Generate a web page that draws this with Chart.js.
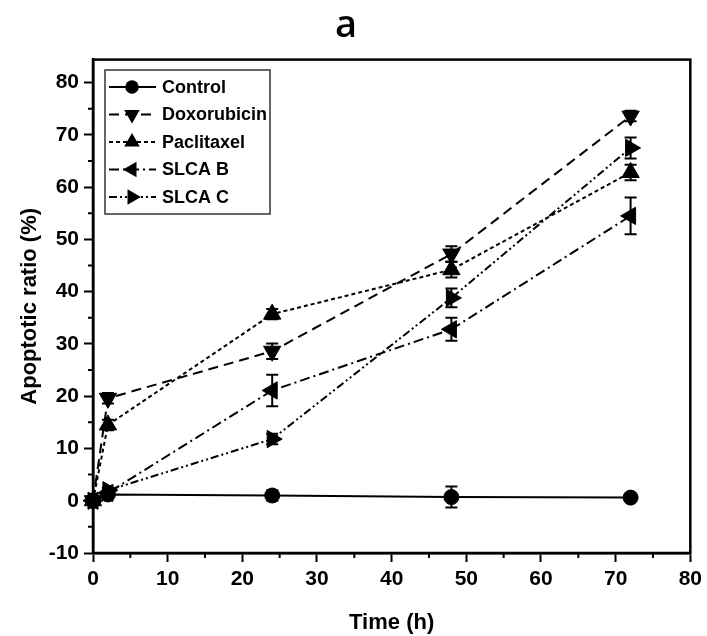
<!DOCTYPE html>
<html>
<head>
<meta charset="utf-8">
<script src="https://cdn.jsdelivr.net/npm/chart.js@4.4.1/dist/chart.umd.min.js"></script>
<style>
    html, body { margin: 0; padding: 0; background: #fff; }
    #wrap { width: 707px; height: 636px; }
</style>
</head>
<body>
<div id="wrap"><canvas id="chart" width="707" height="636"></canvas></div>
<script>
// time points (h)
var times = [0, 2, 24, 48, 72];

// apoptotic ratio (%) per treatment
var control = [0, 1.2, 1.0, 0.7, 0.6];
var doxorubicin = [0, 19.6, 28.6, 47.2, 73.6];
var paclitaxel = [0, 14.5, 35.7, 44.2, 62.8];
var slcaB = [0, 1.5, 21.1, 32.8, 54.5];
var slcaC = [0, 2.0, 11.8, 38.8, 67.5];

// error bars (+/-)
var controlErr = [0, 0.5, 1.0, 2.0, 0.5];
var doxorubicinErr = [0, 1.0, 1.5, 1.5, 1.0];
var paclitaxelErr = [0, 1.0, 1.0, 1.5, 1.5];
var slcaBErr = [0, 1.0, 3.0, 2.2, 3.5];
var slcaCErr = [0, 0.5, 1.0, 1.8, 2.0];

var xTicks = [0, 10, 20, 30, 40, 50, 60, 70, 80];
var yTicks = [-10, 0, 10, 20, 30, 40, 50, 60, 70, 80];

var fontFamily = "'Liberation Sans', Arial, sans-serif";
Chart.defaults.font.family = fontFamily;
Chart.defaults.color = '#000';

function makeSet(label, values, errors, style, rotation, radius, dash) {
    return {
        label: label,
        data: times.map((t, i) => ({ x: t, y: values[i] })),
        errors: errors,
        borderColor: '#000',
        backgroundColor: '#000',
        borderWidth: 2,
        borderDash: dash,
        pointStyle: style,
        rotation: rotation,
        pointRadius: radius,
        pointBorderWidth: 1,
        pointHoverRadius: radius,
        fill: false,
        tension: 0,
        clip: false
    };
}

var datasets = [
    makeSet('Control', control, controlErr, 'circle', 0, 7.5, []),
    makeSet('Doxorubicin', doxorubicin, doxorubicinErr, 'triangle', 180, 10, [10, 6]),
    makeSet('Paclitaxel', paclitaxel, paclitaxelErr, 'triangle', 0, 10, [4, 3]),
    makeSet('SLCA B', slcaB, slcaBErr, 'triangle', -90, 10, [10, 4, 2, 4]),
    makeSet('SLCA C', slcaC, slcaCErr, 'triangle', 90, 10, [8, 3, 2, 3, 2, 3])
];

// error bars under the markers
var errorBars = {
    id: 'errorBars',
    beforeDatasetsDraw(chart) {
        var ctx = chart.ctx;
        var xs = chart.scales.x, ys = chart.scales.y;
        ctx.save();
        ctx.strokeStyle = '#000';
        ctx.lineWidth = 2;
        ctx.setLineDash([]);
        chart.data.datasets.forEach(ds => {
            ds.data.forEach((p, i) => {
                var e = ds.errors[i];
                if (!e) return;
                var x = xs.getPixelForValue(p.x);
                var y1 = ys.getPixelForValue(p.y + e);
                var y2 = ys.getPixelForValue(p.y - e);
                ctx.beginPath();
                ctx.moveTo(x, y1); ctx.lineTo(x, y2);
                ctx.moveTo(x - 6, y1); ctx.lineTo(x + 6, y1);
                ctx.moveTo(x - 6, y2); ctx.lineTo(x + 6, y2);
                ctx.stroke();
            });
        });
        ctx.restore();
    }
};

// frame round the plot + minor ticks
var frame = {
    id: 'frame',
    afterDraw(chart) {
        var ctx = chart.ctx, a = chart.chartArea;
        var xs = chart.scales.x, ys = chart.scales.y;
        ctx.save();
        ctx.strokeStyle = '#000';
        ctx.lineWidth = 2.5;
        ctx.setLineDash([]);
        ctx.strokeRect(a.left, a.top, a.right - a.left, a.bottom - a.top);
        ctx.lineWidth = 2;
        ctx.beginPath();
        for (var v = 5; v < 80; v += 10) {
            var x = xs.getPixelForValue(v);
            ctx.moveTo(x, a.bottom); ctx.lineTo(x, a.bottom + 5);
        }
        for (var w = -5; w < 84; w += 10) {
            var y = ys.getPixelForValue(w);
            ctx.moveTo(a.left, y); ctx.lineTo(a.left - 5, y);
        }
        ctx.stroke();
        ctx.restore();
    }
};

function drawMarker(ctx, style, rotation, r, x, y) {
    ctx.beginPath();
    if (style === 'circle') {
        ctx.arc(x, y, r, 0, Math.PI * 2);
    } else {
        var rad = rotation * Math.PI / 180;
        for (var k = 0; k < 3; k++) {
            var px = x + Math.sin(rad) * r, py = y - Math.cos(rad) * r;
            if (k === 0) ctx.moveTo(px, py); else ctx.lineTo(px, py);
            rad += Math.PI * 2 / 3;
        }
        ctx.closePath();
    }
    ctx.fill();
}

// legend inside the plot, with line samples
var insideLegend = {
    id: 'insideLegend',
    afterDraw(chart) {
        var ctx = chart.ctx;
        var bx = 105, by = 70, bw = 165, bh = 144;
        ctx.save();
        ctx.fillStyle = '#fff';
        ctx.fillRect(bx, by, bw, bh);
        ctx.strokeStyle = '#333';
        ctx.lineWidth = 1.5;
        ctx.setLineDash([]);
        ctx.strokeRect(bx, by, bw, bh);
        ctx.font = 'bold 18px ' + fontFamily;
        ctx.textBaseline = 'middle';
        chart.data.datasets.forEach((ds, i) => {
            var y = 87 + i * 27.5;
            ctx.strokeStyle = '#000';
            ctx.lineWidth = 2;
            ctx.setLineDash(ds.borderDash);
            ctx.beginPath();
            ctx.moveTo(109, y); ctx.lineTo(156, y);
            ctx.stroke();
            ctx.setLineDash([]);
            ctx.fillStyle = '#000';
            drawMarker(ctx, ds.pointStyle, ds.rotation, ds.pointRadius * 0.9, 132, y);
            ctx.fillText(ds.label, 162, y + 1);
        });
        ctx.restore();
    }
};

var ctx = document.getElementById('chart').getContext('2d');
var chart = new Chart(ctx, {
    type: 'line',
    data: { datasets: datasets },
    options: {
        responsive: false,
        animation: false,
        devicePixelRatio: 1,
        layout: { padding: { left: 0, right: 15, top: 0, bottom: 0 } },
        plugins: {
            legend: { display: false },
            tooltip: { enabled: false },
            title: {
                display: true,
                text: 'a',
                color: '#000',
                font: { family: "'Open Sans', sans-serif", size: 38, weight: '600' },
                padding: { top: 3, bottom: 11 }
            }
        },
        scales: {
            x: {
                type: 'linear',
                min: 0,
                max: 80,
                afterFit: s => { s.height = 83; },
                afterBuildTicks: s => { s.ticks = xTicks.map(v => ({ value: v })); },
                grid: { drawOnChartArea: false, tickLength: 9, tickWidth: 2, tickColor: '#000' },
                border: { display: true, color: '#000', width: 2.5 },
                ticks: { font: { size: 21, weight: 'bold' }, padding: 5, maxRotation: 0 },
                title: {
                    display: true,
                    text: 'Time (h)',
                    font: { size: 22, weight: 'bold' },
                    padding: { top: 0, bottom: 0 }
                }
            },
            y: {
                min: -10,
                max: 84.4,
                afterFit: s => { s.width = 93; },
                afterBuildTicks: s => { s.ticks = yTicks.map(v => ({ value: v })); },
                grid: { drawOnChartArea: false, tickLength: 9, tickWidth: 2, tickColor: '#000' },
                border: { display: true, color: '#000', width: 2.5 },
                ticks: { font: { size: 21, weight: 'bold' }, padding: 5 },
                title: {
                    display: true,
                    text: 'Apoptotic ratio (%)',
                    font: { size: 22, weight: 'bold' },
                    padding: { top: 17, bottom: 0 }
                }
            }
        }
    },
    plugins: [errorBars, frame, insideLegend]
});
</script>
</body>
</html>
